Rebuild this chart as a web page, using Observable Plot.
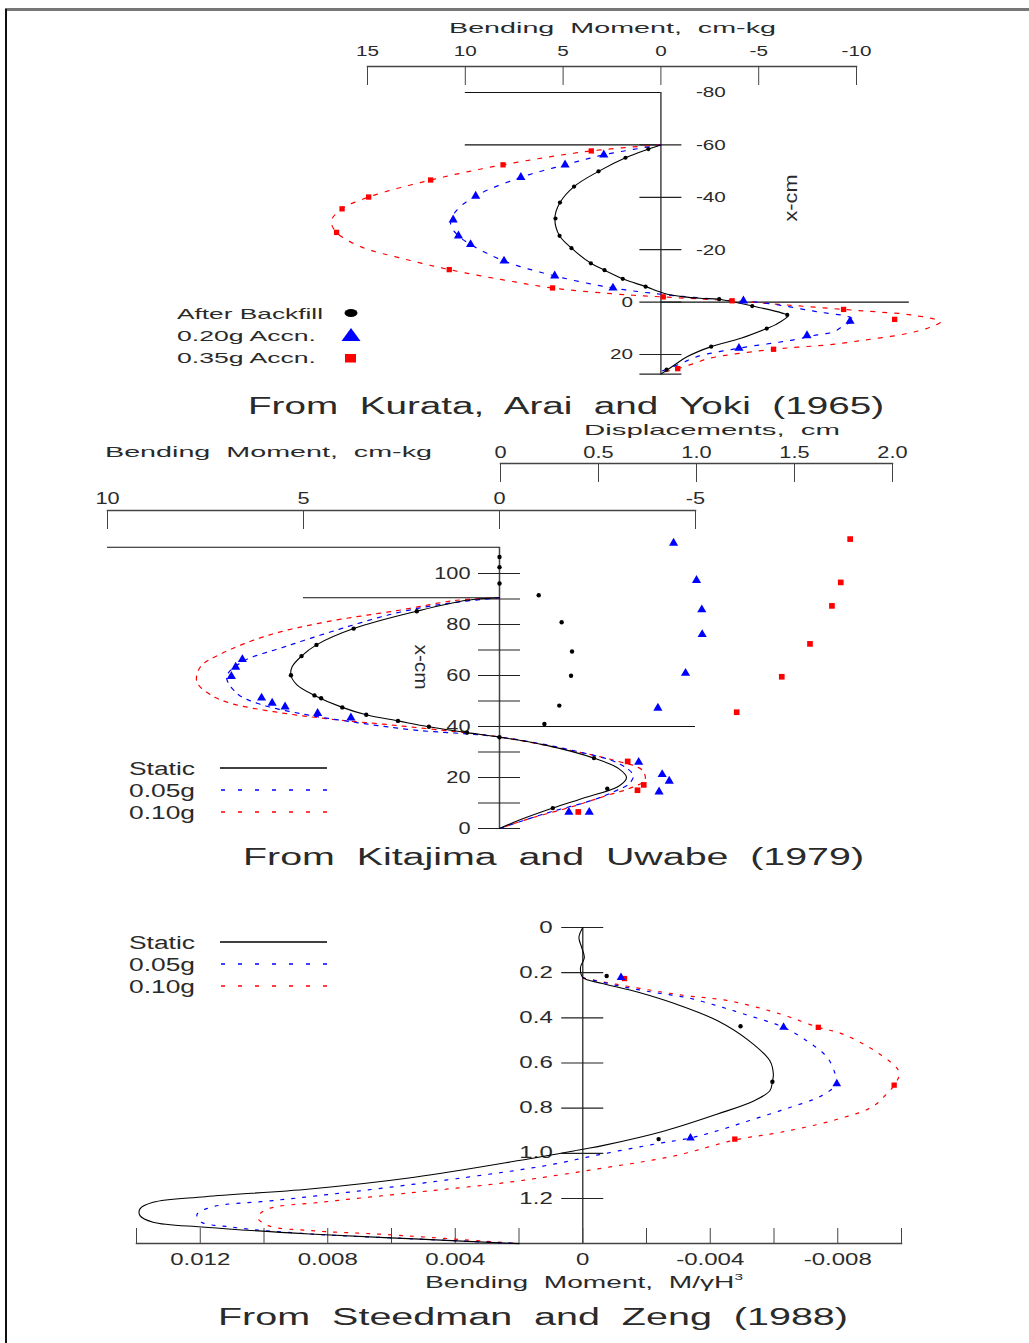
<!DOCTYPE html>
<html>
<head>
<meta charset="utf-8">
<title>Bending moment profiles</title>
<script src="https://cdn.jsdelivr.net/npm/d3@7"></script>
<script src="https://cdn.jsdelivr.net/npm/@observablehq/plot@0.6"></script>
<style>
  html, body { margin: 0; padding: 0; background: #fff; }
  #page { position: relative; width: 1029px; height: 1343px; overflow: hidden; background: #fff;
          font-family: "Liberation Sans", Arial, Helvetica, sans-serif; color: #2a2a2a; }
  #page > svg { position: absolute; left: 0; top: 0; }
  .lbl { position: absolute; white-space: pre; line-height: 1; color: #2a2a2a; }
  .rule-top { position: absolute; left: 5px; top: 8px; width: 1024px; height: 2.5px; background: #777; }
  .rule-left { position: absolute; left: 5px; top: 9px; width: 2px; height: 1334px; background: #111; }
  .legsvg { position: absolute; overflow: visible; }
</style>
</head>
<body>
<div id="page"><div class="rule-top"></div><div class="rule-left"></div></div>
<script>
const W = 1029, H = 1343;
const FONT = '"Liberation Sans", Arial, Helvetica, sans-serif';
const INK = "#2a2a2a";
const BLUE = "#0000ff", RED = "#ff0000", BLACK = "#000000";

// ===== Panel 1 : Kurata, Arai and Yoki (1965) =====
const kurataMomentTicks = [15, 10, 5, 0, -5, -10];
const kurataMomentTickLabels = ["15", "10", "5", "0", "-5", "-10"];
const kurataDepthTicks = [-60, -40, -20, 0, 20];
const kurataDepthLabelValues = [-80, -60, -40, -20, 0, 20];
const kurataDepthLabels = ["-80", "-60", "-40", "-20", "0", "20"];
const kurataWallTop = -80, kurataWallToe = 27.5;
const kurataLevelDepth = [-80, -60, 0];
const kurataLevelFrom = [10, 10, 0];
const kurataLevelTo = [0, 0, -12.7];

const kurataBackfillX = [-58.4, -55.1, -49.9, -44.1, -38.0, -31.9, -25.3, -20.6, -14.8, -12.2, -8.9, -5.9, -1.1, 1.5, 4.9, 10.1, 17.0, 25.8];
const kurataBackfillM = [0.64, 1.81, 3.19, 4.44, 5.16, 5.39, 5.18, 4.57, 3.58, 2.88, 1.95, 0.78, -2.98, -4.67, -6.46, -5.41, -2.57, -0.29];
const kurata020X = [-56.2, -52.4, -47.6, -40.5, -31.4, -25.3, -22.0, -15.7, -10.0, -5.4, -0.5, 7.3, 12.8, 17.6];
const kurata020M = [2.92, 4.90, 7.16, 9.47, 10.62, 10.35, 9.73, 8.02, 5.43, 2.45, -4.22, -9.67, -7.47, -3.99];
const kurata035X = [-57.7, -52.4, -46.6, -40.1, -35.6, -26.6, -12.4, -5.4, -2.0, -0.5, 2.8, 6.6, 18.0, 25.4];
const kurata035M = [3.56, 8.07, 11.77, 14.94, 16.30, 16.58, 10.82, 5.54, -0.12, -3.64, -9.34, -11.95, -5.76, -0.86];

const kurataStaticCurveX = [-60, -58.4, -55.1, -49.9, -44.1, -38.0, -31.9, -25.3, -20.6, -14.8, -12.2, -8.9, -5.9, -3.3, -2.0, -1.4, -1.1, 1.5, 4.2, 5.2, 8.7, 10.1, 13.8, 17.0, 20.8, 24.6, 27.5];
const kurataStaticCurveM = [0, 0.64, 1.81, 3.19, 4.44, 5.16, 5.42, 5.18, 4.57, 3.58, 2.88, 1.95, 0.78, -0.19, -1.17, -2.14, -2.98, -4.67, -6.2, -6.5, -5.84, -5.41, -4.09, -2.57, -1.36, -0.58, 0];
const kurata020CurveX = [-60, -56.2, -52.4, -47.6, -40.5, -34.5, -29.5, -25.3, -22.0, -15.7, -10.0, -5.4, -3.0, -1.6, -0.5, 1.1, 3.7, 5.6, 7.0, 8.7, 11.3, 12.8, 14.4, 17.6, 20.8, 23.3, 26.5];
const kurata020CurveM = [0, 2.92, 4.90, 7.16, 9.47, 10.5, 10.75, 10.35, 9.73, 8.02, 5.43, 2.45, 0, -2.0, -4.22, -6.0, -8.0, -9.6, -9.9, -9.4, -8.85, -7.78, -6.8, -3.99, -1.85, -1.07, 0];
const kurata035CurveX = [-60, -57.7, -52.4, -46.6, -40.1, -35.6, -31.0, -26.6, -21.0, -16.8, -12.4, -8.4, -5.4, -3.2, -2.0, -0.5, 1.3, 2.8, 3.7, 4.9, 7.5, 9.5, 11.9, 14.4, 16.3, 17.2, 18.0, 21.4, 23.3, 25.4, 27.0];
const kurata035CurveM = [0, 3.56, 8.07, 11.77, 14.94, 16.3, 16.85, 16.58, 15.3, 13.3, 10.82, 8.0, 5.54, 2.5, 0, -3.64, -6.8, -9.34, -11.0, -12.8, -14.3, -13.8, -12.65, -10.5, -8.56, -7.0, -5.76, -2.5, -1.75, -0.86, 0];

// ===== Panel 2 : Kitajima and Uwabe (1979) =====
const kitaMomentTicks = [10, 5, 0, -5];
const kitaMomentTickLabels = ["10", "5", "0", "-5"];
const kitaDispTicks = [0, 0.5, 1.0, 1.5, 2.0];
const kitaDispTickLabels = ["0", "0.5", "1.0", "1.5", "2.0"];
const kitaDepthTicks = [0, 10, 20, 30, 40, 50, 60, 70, 80, 90, 100];
const kitaDepthLabelValues = [0, 20, 40, 60, 80, 100];
const kitaDepthLabels = ["0", "20", "40", "60", "80", "100"];
const kitaWallBase = 0, kitaWallTop = 110.3;
const kitaLevelDepth = [110.3, 90.5, 40];
const kitaLevelFrom = [10, 5, 0];
const kitaLevelTo = [0, 0, -5];

const kitaStaticCurveX = [90.5, 89.5, 85.2, 78.4, 72.0, 67.6, 63.4, 60.1, 56.2, 52.2, 47.5, 44.6, 42.2, 39.9, 37.6, 35.8, 32.7, 27.6, 23.5, 20.0, 16.6, 11.8, 8.0, 3.3, 0];
const kitaStaticCurveM = [0, 0.83, 2.11, 3.72, 4.67, 5.05, 5.29, 5.32, 5.16, 4.72, 4.01, 3.40, 2.59, 1.80, 0.83, 0, -1.17, -2.41, -3.04, -3.24, -3.04, -2.11, -1.36, -0.51, 0];
const kita005CurveX = [90.5, 88.2, 84.3, 77.8, 71.2, 65.4, 59.5, 52.9, 49.0, 45.1, 41.8, 38.6, 35.9, 30.7, 25.5, 20.9, 17.6, 14.4, 11.1, 5.9, 0];
const kita005CurveM = [0, 1.36, 2.69, 4.16, 5.49, 6.56, 6.96, 6.69, 6.16, 5.09, 3.76, 2.16, 0, -1.84, -3.04, -3.41, -3.31, -2.91, -2.37, -1.17, 0];
const kita010CurveX = [90.5, 89.5, 85.6, 81.0, 75.8, 68.6, 63.4, 57.5, 52.3, 49.0, 45.8, 43.1, 40.5, 37.9, 35.9, 31.4, 26.8, 22.9, 19.0, 15.7, 13.1, 8.5, 3.9, 0];
const kita010CurveM = [0, 1.09, 2.56, 4.43, 5.89, 7.09, 7.63, 7.72, 7.36, 6.83, 5.76, 4.43, 2.69, 1.09, 0, -1.57, -2.91, -3.64, -3.71, -3.31, -2.77, -1.84, -0.77, 0];

const kitaStaticPtsX = [106.5, 102.5, 96.1, 85.2, 78.4, 72.0, 67.6, 60.1, 52.2, 51.1, 47.5, 44.6, 42.2, 39.9, 37.6, 35.8, 27.6, 15.6, 8.0];
const kitaStaticPtsM = [0, 0, 0, 2.11, 3.72, 4.67, 5.05, 5.32, 4.72, 4.55, 4.01, 3.40, 2.59, 1.80, 0.83, 0, -2.41, -2.75, -1.36];
const kita005PtsX = [66.3, 63.3, 59.7, 51.2, 49.2, 47.7, 45.2, 43.4, 26.0, 21.2, 18.6, 14.4, 6.4, 6.4];
const kita005PtsM = [6.56, 6.73, 6.84, 6.07, 5.80, 5.47, 4.64, 3.79, -3.55, -4.15, -4.33, -4.07, -2.29, -1.77];
const kita010PtsX = [26.3, 17.1, 15.0, 6.5];
const kita010PtsM = [-3.27, -3.68, -3.52, -2.01];

const kitaDispStaticX = [91.5, 80.9, 69.4, 59.9, 48.2, 41.0];
const kitaDispStaticD = [0.195, 0.312, 0.365, 0.360, 0.300, 0.224];
const kitaDisp005X = [111.9, 97.3, 85.8, 76.1, 60.9, 47.2];
const kitaDisp005D = [0.883, 1.000, 1.027, 1.029, 0.944, 0.803];
const kitaDisp010X = [113.5, 96.5, 87.3, 72.4, 59.5, 45.6];
const kitaDisp010D = [1.784, 1.736, 1.691, 1.579, 1.435, 1.205];

// ===== Panel 3 : Steedman and Zeng (1988) =====
const steedMomentTicks = [0.014, 0.012, 0.010, 0.008, 0.006, 0.004, 0.002, 0, -0.002, -0.004, -0.006, -0.008, -0.010];
const steedMomentLabelValues = [0.012, 0.008, 0.004, 0, -0.004, -0.008];
const steedMomentLabels = ["0.012", "0.008", "0.004", "0", "-0.004", "-0.008"];
const steedDepthTicks = [0, 0.2, 0.4, 0.6, 0.8, 1.0, 1.2];
const steedDepthLabels = ["0", "0.2", "0.4", "0.6", "0.8", "1.0", "1.2"];
const steedWallTop = 0, steedWallBase = 1.4;

const steedStaticZ = [0, 0.044, 0.09, 0.133, 0.177, 0.221, 0.248, 0.288, 0.339, 0.413, 0.501, 0.590, 0.649, 0.683, 0.723, 0.767, 0.826, 0.900, 0.966, 0.982, 1.032, 1.106, 1.158, 1.192, 1.217, 1.246, 1.276, 1.305, 1.327, 1.357, 1.379, 1.4];
const steedStaticM = [0, 0.00012, 0.00003, -0.00005, 0.00007, 0, -0.00062, -0.00177, -0.00292, -0.00423, -0.00521, -0.00587, -0.00598, -0.00595, -0.00587, -0.00538, -0.00423, -0.00259, -0.00062, 0, 0.002, 0.00528, 0.00856, 0.01184, 0.01348, 0.01389, 0.01389, 0.01348, 0.01184, 0.00856, 0.00528, 0.002];
const steed005Z = [0.222, 0.263, 0.288, 0.310, 0.347, 0.383, 0.442, 0.501, 0.575, 0.649, 0.692, 0.730, 0.760, 0.796, 0.826, 0.863, 0.900, 0.932, 0.959, 1.003, 1.055, 1.106, 1.165, 1.209, 1.236, 1.27, 1.302, 1.327, 1.357, 1.379, 1.4];
const steed005M = [0, -0.00128, -0.00226, -0.00325, -0.00423, -0.00505, -0.0063, -0.00702, -0.00767, -0.00792, -0.00797, -0.00767, -0.00726, -0.00652, -0.00587, -0.00505, -0.00423, -0.00338, -0.00226, -0.00062, 0.00118, 0.00364, 0.00692, 0.0097, 0.01159, 0.0121, 0.012, 0.011, 0.00856, 0.00528, 0.002];
const steed010Z = [0.224, 0.273, 0.302, 0.324, 0.383, 0.442, 0.472, 0.560, 0.642, 0.698, 0.745, 0.796, 0.855, 0.907, 0.941, 1.010, 1.069, 1.128, 1.173, 1.217, 1.246, 1.283, 1.320, 1.342, 1.360, 1.4];
const steed010M = [0, -0.00193, -0.00325, -0.00456, -0.0062, -0.00739, -0.00816, -0.00931, -0.00993, -0.00977, -0.00948, -0.00906, -0.00784, -0.0062, -0.00477, -0.00292, -0.00046, 0.00233, 0.00528, 0.00823, 0.00987, 0.0102, 0.00987, 0.00856, 0.0061, 0.002];
const steedStaticPtsZ = [0.215, 0.437, 0.683, 0.937];
const steedStaticPtsM = [-0.00075, -0.00495, -0.00595, -0.00238];
const steed005PtsZ = [0.221, 0.442, 0.692, 0.932];
const steed005PtsM = [-0.0012, -0.0063, -0.00797, -0.00338];
const steed010PtsZ = [0.226, 0.442, 0.698, 0.937];
const steed010PtsM = [-0.00131, -0.00739, -0.00977, -0.00477];

// ===== helpers =====
const page = document.getElementById("page");
const zipPts = (xs, ys) => xs.map((x, i) => ({x, y: ys[i]}));
const levels = (d, f, t) => d.map((v, i) => ({depth: v, from: f[i], to: t[i]}));
const lookup = (values, labels) => (d) => { const i = values.indexOf(d); return i < 0 ? "" : labels[i]; };
const baseStyle = {background: "transparent", overflow: "visible", fontFamily: FONT, color: INK};

function stretchTexts(svg, k) {
  svg.querySelectorAll("text").forEach((t) => {
    const len = t.getComputedTextLength();
    if (len > 0) {
      t.setAttribute("textLength", (len * k).toFixed(1));
      t.setAttribute("lengthAdjust", "spacingAndGlyphs");
    }
  });
}

function addLabel(html, o) {
  const d = document.createElement("div");
  d.className = "lbl";
  d.innerHTML = html;
  d.style.fontSize = o.size + "px";
  page.appendChild(d);
  const w0 = d.getBoundingClientRect().width;
  const s = o.width / w0;
  d.style.transformOrigin = "0 0";
  if (o.rotate) {
    d.style.left = o.cx + "px"; d.style.top = o.cy + "px";
    d.style.transform = `rotate(${o.rotate}deg) scaleX(${s}) translate(-50%, -50%)`;
  } else {
    d.style.left = o.left + "px"; d.style.top = o.cy + "px";
    d.style.transform = `scaleX(${s}) translateY(-50%)`;
  }
}

const NS = "http://www.w3.org/2000/svg";
function legendSvg(left, top, w, h, inner) {
  const s = document.createElementNS(NS, "svg");
  s.setAttribute("class", "legsvg");
  s.setAttribute("width", w); s.setAttribute("height", h);
  s.style.left = left + "px"; s.style.top = top + "px";
  s.innerHTML = inner;
  page.appendChild(s);
}

// ===== Panel 1 plot =====
const p1 = Plot.plot({
  width: W, height: H,
  marginTop: 66, marginLeft: 367, marginRight: W - 856, marginBottom: H - 374,
  style: baseStyle,
  x: {type: "linear", domain: [15, -10], range: [367, 856]},
  y: {type: "linear", domain: [-80, 20], range: [92, 354], axis: null},
  marks: [
    Plot.frame({anchor: "top", stroke: "#444", strokeWidth: 1.5}),
    Plot.axisX(kurataMomentTicks, {anchor: "top", tickSize: -18, tickPadding: 29, stroke: "#444",
      tickFormat: lookup(kurataMomentTicks, kurataMomentTickLabels), label: null, fontSize: 15}),
    Plot.ruleX([0], {y1: kurataWallTop, y2: kurataWallToe, stroke: "#444", strokeWidth: 1.5}),
    Plot.ruleY(levels(kurataLevelDepth, kurataLevelFrom, kurataLevelTo), {y: "depth", x1: "from", x2: "to", stroke: "#111", strokeWidth: 1.2}),
    Plot.ruleY(kurataDepthTicks.concat([kurataWallToe]), {y: (d) => d, x1: () => 0, x2: () => 0, insetLeft: -21, insetRight: -21, stroke: "#222", strokeWidth: 1.2}),
    Plot.text(kurataDepthLabelValues.filter((v) => v < 0), {x: () => 0, y: (d) => d, text: lookup(kurataDepthLabelValues, kurataDepthLabels), textAnchor: "start", dx: 35, fontSize: 15}),
    Plot.text(kurataDepthLabelValues.filter((v) => v >= 0), {x: () => 0, y: (d) => d, text: lookup(kurataDepthLabelValues, kurataDepthLabels), textAnchor: "end", dx: -28, fontSize: 15}),
    Plot.line(zipPts(kurata035CurveM, kurata035CurveX), {x: "x", y: "y", curve: "catmull-rom", stroke: RED, strokeWidth: 1.2, strokeDasharray: "4,8"}),
    Plot.line(zipPts(kurata020CurveM, kurata020CurveX), {x: "x", y: "y", curve: "catmull-rom", stroke: BLUE, strokeWidth: 1.2, strokeDasharray: "4,8"}),
    Plot.line(zipPts(kurataStaticCurveM, kurataStaticCurveX), {x: "x", y: "y", curve: "catmull-rom", stroke: BLACK, strokeWidth: 1.1}),
    Plot.dot(zipPts(kurata035M, kurata035X), {x: "x", y: "y", symbol: "square", r: 3, fill: RED, stroke: "none"}),
    Plot.dot(zipPts(kurata020M, kurata020X), {x: "x", y: "y", symbol: "triangle", r: 3.4, fill: BLUE, stroke: "none"}),
    Plot.dot(zipPts(kurataBackfillM, kurataBackfillX), {x: "x", y: "y", r: 2.1, fill: BLACK, stroke: "none"})
  ]
});

// ===== Panel 2 plots =====
const kitaY = {type: "linear", domain: [0, 100], range: [828, 573], axis: null};
const p2 = Plot.plot({
  width: W, height: H,
  marginTop: 510, marginLeft: 107, marginRight: W - 695, marginBottom: H - 828,
  style: baseStyle,
  x: {type: "linear", domain: [10, -5], range: [107, 695]},
  y: kitaY,
  marks: [
    Plot.frame({anchor: "top", stroke: "#444", strokeWidth: 1.5}),
    Plot.axisX(kitaMomentTicks, {anchor: "top", tickSize: -18, tickPadding: 25, stroke: "#444",
      tickFormat: lookup(kitaMomentTicks, kitaMomentTickLabels), label: null, fontSize: 17}),
    Plot.ruleX([0], {y1: kitaWallBase, y2: kitaWallTop, stroke: "#444", strokeWidth: 1.5}),
    Plot.ruleY(levels(kitaLevelDepth, kitaLevelFrom, kitaLevelTo), {y: "depth", x1: "from", x2: "to", stroke: "#111", strokeWidth: 1.2}),
    Plot.ruleY(kitaDepthTicks, {y: (d) => d, x1: () => 0, x2: () => 0, insetLeft: -21, insetRight: -21, stroke: "#222", strokeWidth: 1.2}),
    Plot.text(kitaDepthLabelValues, {x: () => 0, y: (d) => d, text: lookup(kitaDepthLabelValues, kitaDepthLabels), textAnchor: "end", dx: -29, fontSize: 17}),
    Plot.line(zipPts(kita010CurveM, kita010CurveX), {x: "x", y: "y", curve: "catmull-rom", stroke: RED, strokeWidth: 1.2, strokeDasharray: "4,6"}),
    Plot.line(zipPts(kita005CurveM, kita005CurveX), {x: "x", y: "y", curve: "catmull-rom", stroke: BLUE, strokeWidth: 1.2, strokeDasharray: "4,6"}),
    Plot.line(zipPts(kitaStaticCurveM, kitaStaticCurveX), {x: "x", y: "y", curve: "catmull-rom", stroke: BLACK, strokeWidth: 1.1}),
    Plot.dot(zipPts(kita010PtsM, kita010PtsX), {x: "x", y: "y", symbol: "square", r: 3.2, fill: RED, stroke: "none"}),
    Plot.dot(zipPts(kita005PtsM, kita005PtsX), {x: "x", y: "y", symbol: "triangle", r: 3.4, fill: BLUE, stroke: "none"}),
    Plot.dot(zipPts(kitaStaticPtsM, kitaStaticPtsX), {x: "x", y: "y", r: 2.2, fill: BLACK, stroke: "none"})
  ]
});

const p2d = Plot.plot({
  width: W, height: H,
  marginTop: 463, marginLeft: 500, marginRight: W - 892, marginBottom: H - 828,
  style: baseStyle,
  x: {type: "linear", domain: [0, 2], range: [500, 892]},
  y: kitaY,
  marks: [
    Plot.frame({anchor: "top", stroke: "#444", strokeWidth: 1.5}),
    Plot.axisX(kitaDispTicks, {anchor: "top", tickSize: -18, tickPadding: 24, stroke: "#444",
      tickFormat: lookup(kitaDispTicks, kitaDispTickLabels), label: null, fontSize: 17}),
    Plot.dot(zipPts(kitaDisp010D, kitaDisp010X), {x: "x", y: "y", symbol: "square", r: 3.2, fill: RED, stroke: "none"}),
    Plot.dot(zipPts(kitaDisp005D, kitaDisp005X), {x: "x", y: "y", symbol: "triangle", r: 3.4, fill: BLUE, stroke: "none"}),
    Plot.dot(zipPts(kitaDispStaticD, kitaDispStaticX), {x: "x", y: "y", r: 2.2, fill: BLACK, stroke: "none"})
  ]
});

// ===== Panel 3 plot =====
const p3 = Plot.plot({
  width: W, height: H,
  marginTop: 927, marginLeft: 136, marginRight: W - 901, marginBottom: H - 1243,
  style: baseStyle,
  x: {type: "linear", domain: [0.014, -0.010], range: [136, 901]},
  y: {type: "linear", domain: [0, 1.2], range: [927, 1198], axis: null},
  marks: [
    Plot.frame({anchor: "bottom", stroke: "#444", strokeWidth: 1.5}),
    Plot.axisX(steedMomentTicks, {anchor: "bottom", tickSize: -15, tickPadding: 25, stroke: "#444",
      tickFormat: lookup(steedMomentLabelValues, steedMomentLabels), label: null, fontSize: 16}),
    Plot.ruleX([0], {y1: steedWallTop, y2: steedWallBase, stroke: "#444", strokeWidth: 1.5}),
    Plot.ruleY(steedDepthTicks, {y: (d) => d, x1: () => 0, x2: () => 0, insetLeft: -21, insetRight: -21, stroke: "#222", strokeWidth: 1.2}),
    Plot.text(steedDepthTicks, {x: () => 0, y: (d) => d, text: lookup(steedDepthTicks, steedDepthLabels), textAnchor: "end", dx: -30, fontSize: 16}),
    Plot.line(zipPts(steed010M, steed010Z), {x: "x", y: "y", curve: "catmull-rom", stroke: RED, strokeWidth: 1.2, strokeDasharray: "3,8"}),
    Plot.line(zipPts(steed005M, steed005Z), {x: "x", y: "y", curve: "catmull-rom", stroke: BLUE, strokeWidth: 1.2, strokeDasharray: "3,8"}),
    Plot.line(zipPts(steedStaticM, steedStaticZ), {x: "x", y: "y", curve: "catmull-rom", stroke: BLACK, strokeWidth: 1.1}),
    Plot.dot(zipPts(steed010PtsM, steed010PtsZ), {x: "x", y: "y", symbol: "square", r: 3, fill: RED, stroke: "none"}),
    Plot.dot(zipPts(steed005PtsM, steed005PtsZ), {x: "x", y: "y", symbol: "triangle", r: 3.2, fill: BLUE, stroke: "none"}),
    Plot.dot(zipPts(steedStaticPtsM, steedStaticPtsZ), {x: "x", y: "y", r: 2.2, fill: BLACK, stroke: "none"})
  ]
});

page.appendChild(p1);
page.appendChild(p2);
page.appendChild(p2d);
page.appendChild(p3);
stretchTexts(p1, 1.38);
stretchTexts(p2, 1.28);
stretchTexts(p2d, 1.28);
stretchTexts(p3, 1.5);

// ===== titles, captions, legends =====
addLabel("Bending  Moment,  cm-kg", {left: 449, cy: 28, width: 327, size: 14});
addLabel("x-cm", {cx: 790, cy: 198, width: 47, size: 19, rotate: -90});
addLabel("After Backfill", {left: 177, cy: 313, width: 146, size: 15});
addLabel("0.20g Accn.", {left: 177, cy: 335, width: 139, size: 15});
addLabel("0.35g Accn.", {left: 177, cy: 357, width: 139, size: 15});
legendSvg(338, 304, 26, 60,
  `<ellipse cx="13" cy="9" rx="6.5" ry="4" fill="${BLACK}"/>
   <path d="M3.5,37 L13,24 L22.5,37 Z" fill="${BLUE}"/>
   <rect x="7" y="50" width="11" height="8.5" fill="${RED}"/>`);
addLabel("From  Kurata,  Arai  and  Yoki  (1965)", {left: 248, cy: 406, width: 636, size: 23});

addLabel("Displacements,  cm", {left: 584, cy: 430, width: 256, size: 14.5});
addLabel("Bending  Moment,  cm-kg", {left: 105, cy: 452, width: 327, size: 14.5});
addLabel("x-cm", {cx: 421, cy: 667, width: 45, size: 19, rotate: 90});
function lineLegend(top, ys) {
  ["Static", "0.05g", "0.10g"].forEach((t, i) => addLabel(t, {left: 129, cy: ys[i] + 1, width: 66, size: 18}));
  legendSvg(215, top, 120, 60,
    `<line x1="5" x2="112" y1="${ys[0] - top}" y2="${ys[0] - top}" stroke="${BLACK}" stroke-width="1.3"/>
     <line x1="6" x2="112" y1="${ys[1] - top}" y2="${ys[1] - top}" stroke="${BLUE}" stroke-width="1.3" stroke-dasharray="4,13"/>
     <line x1="6" x2="112" y1="${ys[2] - top}" y2="${ys[2] - top}" stroke="${RED}" stroke-width="1.3" stroke-dasharray="4,13"/>`);
}
lineLegend(760, [768, 790, 812]);
addLabel("From  Kitajima  and  Uwabe  (1979)", {left: 243, cy: 857, width: 621, size: 23});

lineLegend(934, [942, 964, 986]);
addLabel("Bending  Moment,  M/γH<sup style=\"font-size:0.55em;vertical-align:0.9em\">3</sup>", {left: 425, cy: 1282, width: 318, size: 16});
addLabel("From  Steedman  and  Zeng  (1988)", {left: 218, cy: 1317, width: 630, size: 23});
</script>
</body>
</html>
